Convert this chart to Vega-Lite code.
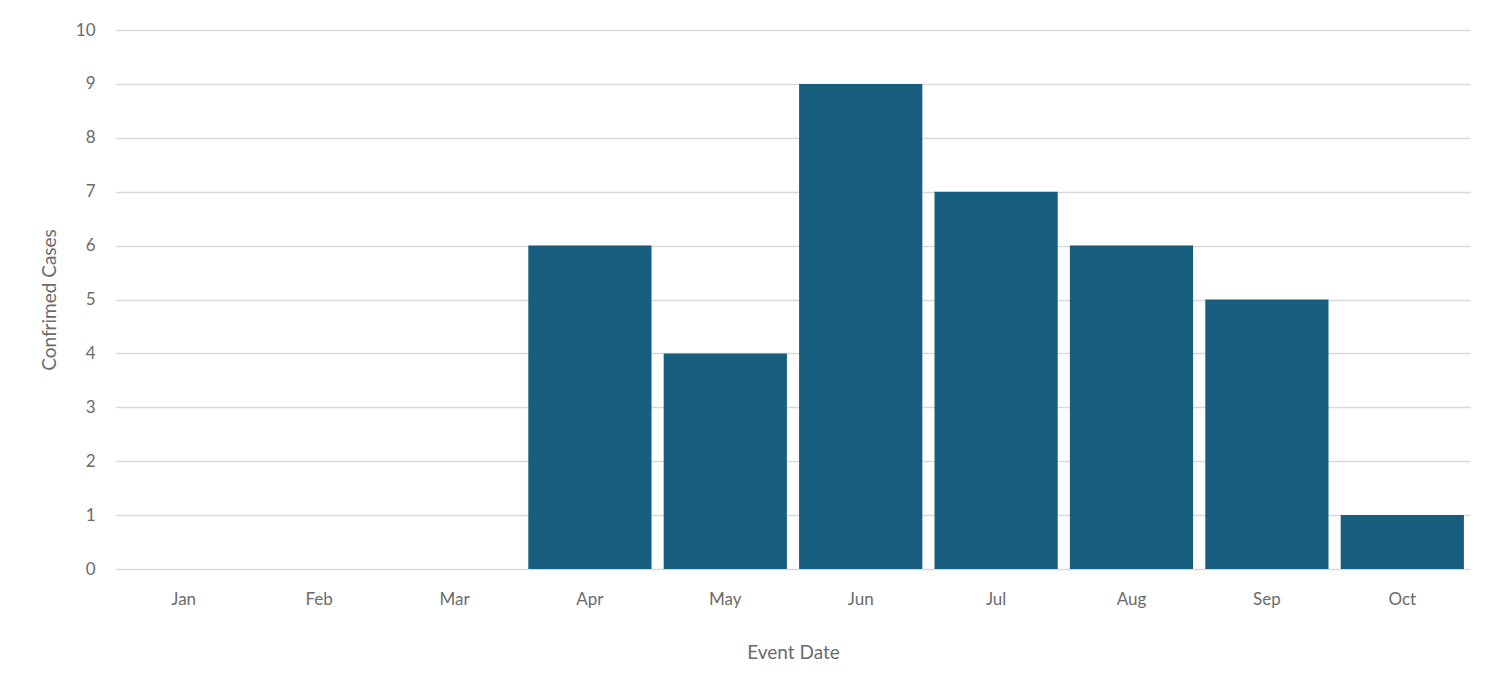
{
  "$schema": "https://vega.github.io/schema/vega-lite/v6.json",
  "autosize": {"type": "none"},
  "padding": {"left": 116, "top": 30, "right": 27, "bottom": 109},
  "width": 1354,
  "height": 539,
  "background": "#ffffff",
  "config": {
    "view": {"stroke": null},
    "font": "Lato",
    "axis": {
      "labelFont": "Lato",
      "titleFont": "Lato",
      "labelColor": "#6b6b6b",
      "titleColor": "#6b6b6b",
      "labelFontSize": 17,
      "titleFontSize": 19,
      "titleFontWeight": "normal",
      "domain": false,
      "ticks": false
    }
  },
  "data": {
    "values": [
      {"month": "Jan", "cases": 0},
      {"month": "Feb", "cases": 0},
      {"month": "Mar", "cases": 0},
      {"month": "Apr", "cases": 6},
      {"month": "May", "cases": 4},
      {"month": "Jun", "cases": 9},
      {"month": "Jul", "cases": 7},
      {"month": "Aug", "cases": 6},
      {"month": "Sep", "cases": 5},
      {"month": "Oct", "cases": 1}
    ]
  },
  "mark": {"type": "bar", "color": "#165D7E"},
  "encoding": {
    "x": {
      "field": "month",
      "type": "ordinal",
      "sort": null,
      "scale": {"paddingInner": 0.09, "paddingOuter": 0.045},
      "axis": {
        "title": "Event Date",
        "labelAngle": 0,
        "labelPadding": 22,
        "titlePadding": 36,
        "grid": false
      }
    },
    "y": {
      "field": "cases",
      "type": "quantitative",
      "scale": {"domain": [0, 10], "nice": false},
      "axis": {
        "title": "Confrimed Cases",
        "values": [0, 1, 2, 3, 4, 5, 6, 7, 8, 9, 10],
        "grid": true,
        "gridColor": "#d9d9d9",
        "gridWidth": 1.5,
        "labelPadding": 21,
        "titlePadding": 16
      }
    }
  }
}
